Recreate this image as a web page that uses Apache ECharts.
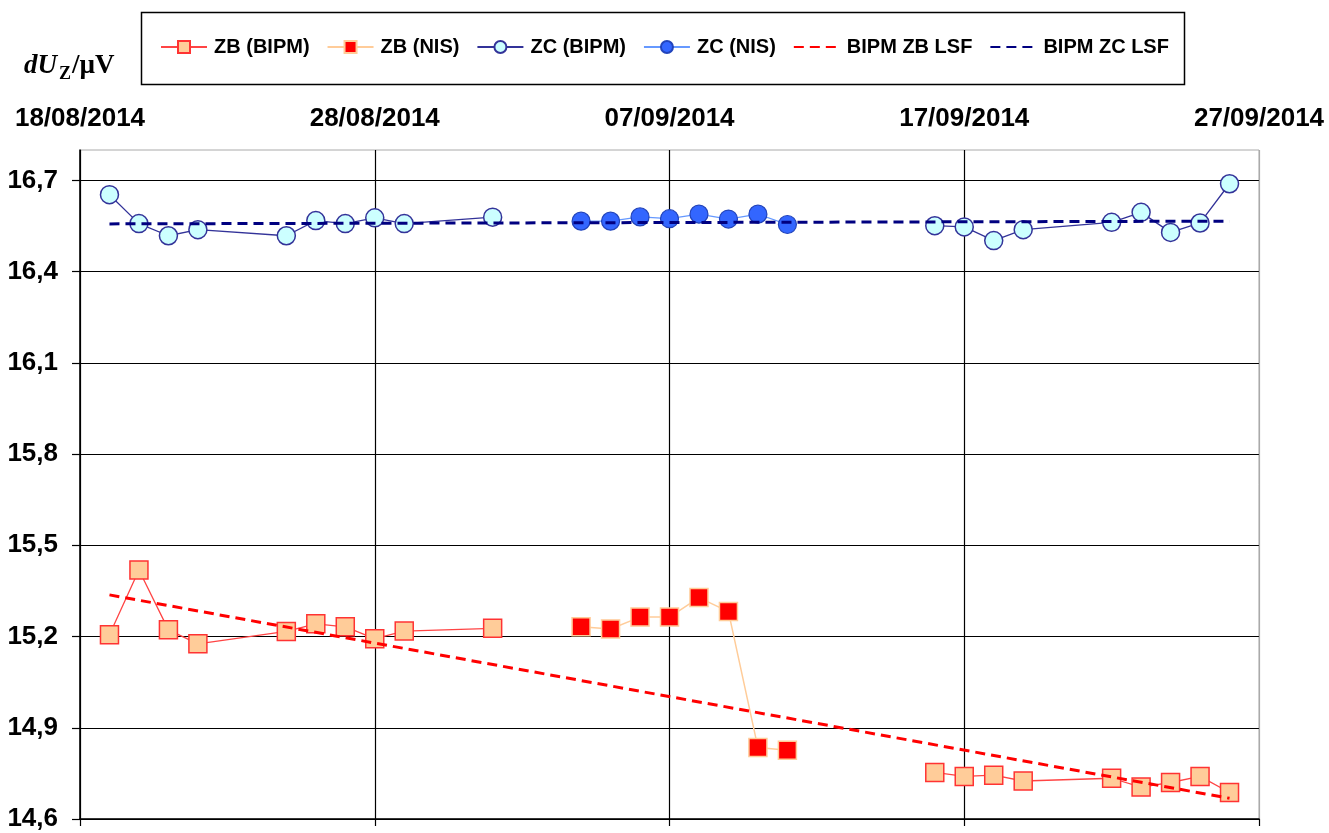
<!DOCTYPE html>
<html>
<head>
<meta charset="utf-8">
<script src="https://cdn.jsdelivr.net/npm/echarts@6/dist/echarts.min.js"></script>
<style>
  html, body { margin: 0; padding: 0; background: #fff; }
  #chart { width: 1329px; height: 833px; }
</style>
</head>
<body>
<div id="chart"></div>
<script>
// ---- Data ----
const bipmDates1 = ['2014-08-19','2014-08-20','2014-08-21','2014-08-22','2014-08-25','2014-08-26','2014-08-27','2014-08-28','2014-08-29','2014-09-01'];
const nisDates   = ['2014-09-04','2014-09-05','2014-09-06','2014-09-07','2014-09-08','2014-09-09','2014-09-10','2014-09-11'];
const bipmDates2 = ['2014-09-16','2014-09-17','2014-09-18','2014-09-19','2014-09-22','2014-09-23','2014-09-24','2014-09-25','2014-09-26'];

const zbBipm1 = [15.206, 15.419, 15.222, 15.176, 15.217, 15.242, 15.232, 15.193, 15.218, 15.227];
const zbNis   = [15.232, 15.225, 15.264, 15.264, 15.328, 15.282, 14.835, 14.826];
const zbBipm2 = [14.753, 14.740, 14.744, 14.725, 14.734, 14.705, 14.720, 14.740, 14.687];

const zcBipm1 = [16.653, 16.558, 16.518, 16.538, 16.518, 16.568, 16.558, 16.577, 16.558, 16.579];
const zcNis   = [16.566, 16.566, 16.580, 16.574, 16.589, 16.573, 16.589, 16.555];
const zcBipm2 = [16.551, 16.547, 16.502, 16.538, 16.562, 16.595, 16.529, 16.560, 16.689];

const lsfDates = ['2014-08-19', '2014-09-26'];
const zbLsf = [15.337, 14.668];
const zcLsf = [16.557, 16.566];

const seriesNames = ['ZB (BIPM)', 'ZB (NIS)', 'ZC (BIPM)', 'ZC (NIS)', 'BIPM ZB LSF', 'BIPM ZC LSF'];
const xStart = '2014-08-18', xEnd = '2014-09-27';
const xStepDays = 10;
const yMin = 14.6, yMax = 16.8, yStep = 0.3;
const yTickValues = [14.6, 14.9, 15.2, 15.5, 15.8, 16.1, 16.4, 16.7];

// ---- Helpers ----
const DAY = 86400000;
const ts = s => { const p = s.split('-').map(Number); return Date.UTC(p[0], p[1] - 1, p[2]); };
const pairs = (dates, vals) => dates.map((d, i) => [ts(d), vals[i]]);
const gap = (a, b) => [[(a[a.length - 1][0] + b[0][0]) / 2, '-']];
const joinSegs = (s1, s2) => s1.concat(gap(s1, s2), s2);
const pad = n => (n < 10 ? '0' : '') + n;
const fmtDate = v => { const d = new Date(v); return pad(d.getUTCDate()) + '/' + pad(d.getUTCMonth() + 1) + '/' + d.getUTCFullYear(); };

const zbBipmData = joinSegs(pairs(bipmDates1, zbBipm1), pairs(bipmDates2, zbBipm2));
const zcBipmData = joinSegs(pairs(bipmDates1, zcBipm1), pairs(bipmDates2, zcBipm2));

// grid line colours: black inside, grey on the outer frame (top / right)
const xLineCount = Math.round((ts(xEnd) - ts(xStart)) / (xStepDays * DAY)) + 1;
const xLineColors = Array.from({ length: xLineCount }, (_, i) => (i === xLineCount - 1 ? '#aaaaaa' : '#000'));
const yLineCount = yTickValues.length + 1;
const yLineColors = Array.from({ length: yLineCount }, (_, i) => (i === yLineCount - 1 ? '#aaaaaa' : '#000'));

const chart = echarts.init(document.getElementById('chart'), null, { renderer: 'canvas' });
const FONT = 'Liberation Sans, Arial, sans-serif';
const hideSym = { color: 'transparent', borderColor: 'transparent', borderWidth: 0 };

chart.setOption({
  animation: false,
  backgroundColor: '#fff',
  grid: { left: 80, right: 70, top: 150, bottom: 14, show: true, borderColor: '#aaaaaa', borderWidth: 1, backgroundColor: 'transparent' },
  legend: {
    data: [
      { name: seriesNames[0] }, { name: seriesNames[1] }, { name: seriesNames[2] }, { name: seriesNames[3] },
      { name: seriesNames[4], itemStyle: hideSym },
      { name: seriesNames[5], itemStyle: hideSym }
    ],
    left: 155, top: 32,
    itemWidth: 46, itemHeight: 15, itemGap: 17,
    textStyle: { fontFamily: FONT, fontWeight: 'bold', fontSize: 20, color: '#000', padding: [0, 0, 0, 2] },
    selectedMode: false
  },
  graphic: [
    { type: 'rect', left: 139, top: 10, shape: { width: 1043, height: 72 }, style: { fill: 'none', stroke: '#000', lineWidth: 1.5 }, silent: true, z: 0 },
    { type: 'text', left: 24, top: 53, style: { text: 'dU', font: 'italic bold 27px "Liberation Serif", serif', fill: '#000' } },
    { type: 'text', left: 59, top: 65, style: { text: 'Z', font: 'bold 18px "Liberation Serif", serif', fill: '#000' } },
    { type: 'text', left: 72, top: 53, style: { text: '/µV', font: 'bold 27px "Liberation Serif", serif', fill: '#000' } }
  ],
  xAxis: [
    {
      type: 'value', position: 'top',
      min: ts(xStart), max: ts(xEnd), interval: xStepDays * DAY,
      axisLine: { show: false }, axisTick: { show: false },
      axisLabel: { formatter: fmtDate, fontFamily: FONT, fontWeight: 'bold', fontSize: 26, color: '#000', margin: 18 },
      splitLine: { show: true, lineStyle: { color: xLineColors, width: 1.2 } }
    },
    {
      type: 'value', position: 'bottom',
      min: ts(xStart), max: ts(xEnd), interval: xStepDays * DAY,
      axisLine: { show: true, lineStyle: { color: '#000', width: 1.5 } },
      axisTick: { show: true, length: 7, lineStyle: { color: '#000', width: 1.2 } },
      axisLabel: { show: false },
      splitLine: { show: false }
    }
  ],
  yAxis: {
    type: 'value', min: yMin, max: yMax, interval: yStep,
    axisLine: { show: true, lineStyle: { color: '#000', width: 1.5 } },
    axisTick: { show: true, length: 8, customValues: yTickValues, lineStyle: { color: '#000', width: 1.2 } },
    axisLabel: {
      formatter: v => (v > yMax - 0.05 ? '' : v.toFixed(1).replace('.', ',')),
      fontFamily: FONT, fontWeight: 'bold', fontSize: 26, color: '#000', margin: 22
    },
    splitLine: { show: true, lineStyle: { color: yLineColors, width: 1.2 } }
  },
  series: [
    {
      name: seriesNames[0], type: 'line', data: zbBipmData, connectNulls: false,
      symbol: 'rect', symbolSize: 18,
      itemStyle: { color: '#FFCC99', borderColor: '#FF3333', borderWidth: 1.5 },
      lineStyle: { color: '#FF4444', width: 1.3 }, z: 2
    },
    {
      name: seriesNames[1], type: 'line', data: pairs(nisDates, zbNis),
      symbol: 'rect', symbolSize: 18,
      itemStyle: { color: '#FF0000', borderColor: '#FFCC99', borderWidth: 1.5 },
      lineStyle: { color: '#FFCC99', width: 1.5 }, z: 2
    },
    {
      name: seriesNames[2], type: 'line', data: zcBipmData, connectNulls: false,
      symbol: 'circle', symbolSize: 18,
      itemStyle: { color: '#CCFFFF', borderColor: '#333399', borderWidth: 1.5 },
      lineStyle: { color: '#333399', width: 1.3 }, z: 2
    },
    {
      name: seriesNames[3], type: 'line', data: pairs(nisDates, zcNis),
      symbol: 'circle', symbolSize: 18,
      itemStyle: { color: '#3366FF', borderColor: '#2244BB', borderWidth: 1.2 },
      lineStyle: { color: '#6699FF', width: 1.3 }, z: 2
    },
    {
      name: seriesNames[4], type: 'line', data: pairs(lsfDates, zbLsf),
      symbol: 'none',
      itemStyle: { color: '#FF0000' },
      lineStyle: { color: '#FF0000', width: 3, type: [10, 6] }, z: 3
    },
    {
      name: seriesNames[5], type: 'line', data: pairs(lsfDates, zcLsf),
      symbol: 'none',
      itemStyle: { color: '#000080' },
      lineStyle: { color: '#000080', width: 3, type: [10, 6] }, z: 3
    }
  ]
});
</script>
</body>
</html>
